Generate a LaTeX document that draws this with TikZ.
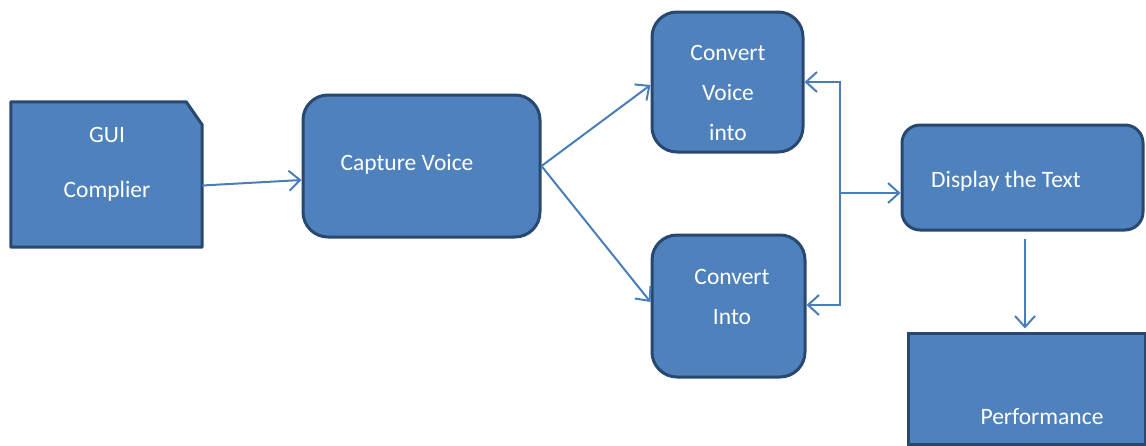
\documentclass[tikz,border=0pt]{standalone}
\usepackage{fontspec}
\setmainfont{Carlito}
\usetikzlibrary{arrows.meta}
\definecolor{boxfill}{HTML}{4F81BD}
\definecolor{boxline}{HTML}{284870}
\definecolor{arrcol}{HTML}{4A7EBB}
\tikzset{
  rbox/.style={draw=boxline, fill=boxfill, line width=3pt, rounded corners=25pt, inner sep=0pt},
  sbox/.style={draw=boxline, fill=boxfill, line width=3pt, inner sep=0pt},
  shapeline/.style={draw=boxline, fill=boxfill, line width=3pt, line join=round},
  txt/.style={text=white, font=\fontsize{23.5}{28}\selectfont, inner sep=0pt, anchor=mid},
  arr/.style={draw=arrcol, line width=2pt, -{Straight Barb[length=11pt,width=20pt,line width=2pt]}},
}
\begin{document}
\begin{tikzpicture}[x=1pt,y=-1pt]
\useasboundingbox (0,0) rectangle (1146,445);
% boxes
\node[inner sep=0pt, minimum width=191pt, minimum height=145pt] (gui) at (106.5,174.5) {};
\path[shapeline] (gui.south west) -- (gui.north west) -- ([xshift=-16pt]gui.north east)
  -- ([yshift=-23pt]gui.north east) -- (gui.south east) -- cycle;
\node[rbox, minimum width=237pt, minimum height=142pt] (cap) at (421.5,166) {};
\node[rbox, minimum width=151pt, minimum height=140pt] (cv) at (727.5,82) {};
\node[rbox, minimum width=153pt, minimum height=142pt] (ci) at (728.5,306) {};
\node[rbox, rounded corners=18pt, minimum width=241pt, minimum height=105pt] (disp) at (1022.5,177.5) {};
\node[sbox, minimum width=237pt, minimum height=111pt] (perf) at (1026.5,388.5) {};
% texts
\node[txt] (t1) at (107,140) {GUI};
\node[txt] (t2) at (107,195) {Complier};
\node[txt] (t3) at (407,168) {Capture Voice};
\node[txt] (t4) at (728,58) {Convert};
\node[txt] (t5) at (728,98) {Voice};
\node[txt] (t6) at (728,138) {into};
\node[txt] (t7) at (732,282) {Convert};
\node[txt] (t8) at (732,322) {Into};
\node[txt] (t9) at (1006,185) {Display the Text};
\node[txt] (t10) at (1042,422) {Performance};
% connectors
\coordinate (j) at (840,193);
\draw[arr] ([yshift=-11pt]gui.east) -- ([yshift=-14pt]cap.west);
\draw[arr] (cap.east) -- ([yshift=-3pt]cv.west);
\draw[arr] (cap.east) -- ([yshift=4pt]ci.west);
\draw[arr] (j) |- (cv.east);
\draw[arr] (j) |- ([yshift=1pt]ci.east);
\draw[arr] (j) -- ([yshift=-15.5pt]disp.west);
\draw[arr] ([xshift=2.5pt,yshift=-7pt]disp.south) -- ([xshift=-1.5pt,yshift=3pt]perf.north);
\end{tikzpicture}
\end{document}
